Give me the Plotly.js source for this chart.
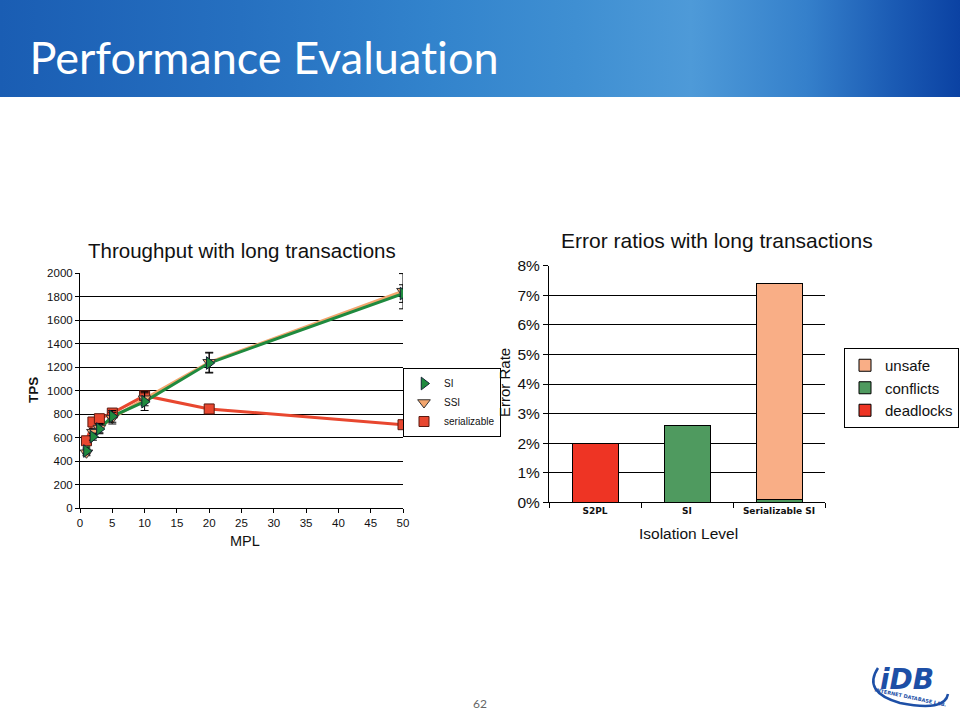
<!DOCTYPE html>
<html>
<head>
<meta charset="utf-8">
<script src="https://cdn.plot.ly/plotly-3.0.1.min.js"></script>
<style>
  html, body { margin: 0; padding: 0; background: #ffffff; }
  #hdr { position: absolute; left: 0; top: 0; width: 960px; height: 97px;
    background: linear-gradient(90deg, #1a5db3 0%, #2670c0 25%, #3283cc 45%, #3f8fd2 60%, #4e9ad8 72%, #3580cb 84%, #1b5bb4 93%, #0b42a3 100%); }
  #chart { position: absolute; left: 0; top: 0; width: 960px; height: 720px; }
  #chart text { font-variant-ligatures: none !important; font-feature-settings: "liga" 0, "clig" 0 !important; }
</style>
</head>
<body>
<div id="hdr"></div>
<div id="chart"></div>
<script>
// ---- Data: throughput chart ----
const mpl = [1, 2, 3, 5, 10, 20, 50];
const tpsSI = [485, 607, 672, 780, 905, 1234, 1825];
const tpsSSI = [470, 645, 680, 765, 930, 1240, 1845];
const tpsSer = [572, 732, 760, 808, 956, 843, 709];
const errSI = [25, 30, 40, 50, 75, 85, 75];
const errSSI = [25, 30, 40, 50, 60, 85, 150];
const tpsTicks = [0, 200, 400, 600, 800, 1000, 1200, 1400, 1600, 1800, 2000];
const mplTicks = [0, 5, 10, 15, 20, 25, 30, 35, 40, 45, 50];

// ---- Data: error ratio chart ----
const levels = ['S2PL', 'SI', 'Serializable SI'];
const deadlocks = [0.02, null, null];
const conflicts = [null, 0.026, 0.001];
const unsafe = [null, null, 0.073];

const W = 960, H = 720;
const px = v => v / W;
const py = v => 1 - v / H;

const cGreen = '#1f8a3e', cOrange = '#f3a66e', cRed = '#e8472f';
const arial = 'Liberation Sans, Arial, sans-serif';

const traces = [
  // lines (no legend)
  {x: mpl, y: tpsSer, mode: 'lines', line: {color: cRed, width: 3}, showlegend: false, hoverinfo: 'skip', xaxis: 'x', yaxis: 'y'},
  {x: mpl, y: tpsSSI, mode: 'lines', line: {color: cOrange, width: 3}, showlegend: false, hoverinfo: 'skip', xaxis: 'x', yaxis: 'y'},
  {x: mpl, y: tpsSI, mode: 'lines', line: {color: cGreen, width: 3}, showlegend: false, hoverinfo: 'skip', xaxis: 'x', yaxis: 'y'},
  // markers (legend)
  {x: mpl, y: tpsSer, name: 'serializable', mode: 'markers', legend: 'legend', legendrank: 3,
   marker: {symbol: 'square', size: 10, color: cRed, line: {color: '#5a1a10', width: 1}}, xaxis: 'x', yaxis: 'y'},
  {x: mpl, y: tpsSSI, name: 'SSI', mode: 'markers', legend: 'legend', legendrank: 2,
   error_y: {type: 'data', array: errSSI, visible: true, color: '#000', thickness: 1, width: 4},
   marker: {symbol: 'triangle-down', size: 11, color: cOrange, line: {color: '#333', width: 1}}, xaxis: 'x', yaxis: 'y'},
  {x: mpl, y: tpsSI, name: 'SI', mode: 'markers', legend: 'legend', legendrank: 1,
   error_y: {type: 'data', array: errSI, visible: true, color: '#000', thickness: 1, width: 4},
   marker: {symbol: 'triangle-right', size: 11, color: cGreen, line: {color: '#123', width: 1}}, xaxis: 'x', yaxis: 'y'},
  // bars
  {type: 'bar', x: levels, y: deadlocks, name: 'deadlocks', legend: 'legend2', width: 0.5,
   marker: {color: '#ee3424', line: {color: '#000', width: 1}}, xaxis: 'x2', yaxis: 'y2'},
  {type: 'bar', x: levels, y: conflicts, name: 'conflicts', legend: 'legend2', width: 0.5,
   marker: {color: '#4f9a5f', line: {color: '#000', width: 1}}, xaxis: 'x2', yaxis: 'y2'},
  {type: 'bar', x: levels, y: unsafe, name: 'unsafe', legend: 'legend2', width: 0.5,
   marker: {color: '#f9ae86', line: {color: '#000', width: 1}}, xaxis: 'x2', yaxis: 'y2'}
];

const ann = (text, x, y, size, opts) => Object.assign({
  text: text, x: px(x), y: py(y), xref: 'paper', yref: 'paper', showarrow: false,
  font: {family: arial, size: size, color: '#111'}, xanchor: 'center', yanchor: 'middle'
}, opts || {});

const layout = {
  width: W, height: H,
  margin: {l: 0, r: 0, t: 0, b: 0},
  paper_bgcolor: 'rgba(0,0,0,0)', plot_bgcolor: 'rgba(0,0,0,0)',
  barmode: 'stack',
  showlegend: true,
  xaxis: {domain: [px(80), px(403)], range: [0, 50], tickvals: mplTicks, ticks: 'outside', ticklen: 4,
    tickcolor: '#000', showline: true, linecolor: '#000', linewidth: 1, showgrid: false, zeroline: false,
    tickfont: {family: arial, size: 11.5, color: '#111'}, automargin: false, fixedrange: true},
  yaxis: {domain: [py(508), py(273)], range: [0, 2000], tickvals: tpsTicks, ticks: 'outside', ticklen: 4,
    tickcolor: '#000', showline: true, linecolor: '#000', linewidth: 1, showgrid: true, gridcolor: '#000', gridwidth: 1,
    zeroline: false, tickfont: {family: arial, size: 11.5, color: '#111'}, automargin: false, fixedrange: true},
  xaxis2: {domain: [px(549), px(825)], anchor: 'y2', type: 'category', tickson: 'boundaries', ticks: 'outside', ticklen: 5,
    tickcolor: '#000', showline: true, linecolor: '#000', linewidth: 1, showgrid: false, zeroline: false,
    tickfont: {family: 'DejaVu Sans, sans-serif', size: 9, color: '#111', weight: 'bold'}, automargin: false, fixedrange: true},
  yaxis2: {domain: [py(502.3), py(265.7)], anchor: 'x2', range: [0, 0.08], dtick: 0.01, tickformat: '.0%', ticks: 'outside', ticklen: 5,
    tickcolor: '#000', showline: true, linecolor: '#000', linewidth: 1, showgrid: true, gridcolor: '#000', gridwidth: 1,
    zeroline: false, tickfont: {family: arial, size: 15.5, color: '#111'}, automargin: false, fixedrange: true},
  legend: {x: px(403), y: py(368), xanchor: 'left', yanchor: 'top', bgcolor: '#fff', bordercolor: '#000', borderwidth: 1,
    font: {family: arial, size: 10, color: '#111'}, traceorder: 'normal', itemwidth: 30, tracegroupgap: 0},
  legend2: {x: px(844), y: py(348), xanchor: 'left', yanchor: 'top', bgcolor: '#fff', bordercolor: '#000', borderwidth: 1,
    font: {family: arial, size: 15, color: '#111'}, traceorder: 'reversed', itemwidth: 30, tracegroupgap: 0},
  annotations: [
    ann('Performance Evaluation', 27, 57, 45, {xanchor: 'left', font: {family: 'Lato, Open Sans, sans-serif', size: 45, color: '#ffffff'}}),
    ann('Throughput with long transactions', 242, 250, 20.5),
    ann('Error ratios with long transactions', 717, 241, 21),
    ann('TPS', 33, 390, 13.5, {textangle: -90, font: {family: arial, size: 13.5, color: '#111', weight: 'bold'}}),
    ann('MPL', 245, 541, 14.5),
    ann('Error Rate', 504, 383, 15, {textangle: -90}),
    ann('Isolation Level', 688, 533, 15.5),
    ann('62', 480, 703, 12, {font: {family: 'Lato, sans-serif', size: 12, color: '#666'}}),
    ann('iDB', 907, 679, 28, {font: {family: 'DejaVu Sans, sans-serif', size: 28, color: '#1d4fa6', weight: 'bold', style: 'italic'}}),
    ann('INTERNET DATABASE LAB.', 910, 697, 5, {textangle: 12, font: {family: 'DejaVu Sans, sans-serif', size: 5, color: '#1d4fa6', weight: 'bold'}})
  ],
  shapes: [
    {type: 'path', xref: 'paper', yref: 'paper',
     path: 'M ' + px(878) + ',' + py(668) + ' Q ' + px(862) + ',' + py(692) + ' ' + px(900) + ',' + py(703) + ' Q ' + px(945) + ',' + py(712) + ' ' + px(948) + ',' + py(694),
     line: {color: '#1d4fa6', width: 2.5}}
  ]
};

Plotly.newPlot('chart', traces, layout, {staticPlot: true, displayModeBar: false});
</script>
</body>
</html>
